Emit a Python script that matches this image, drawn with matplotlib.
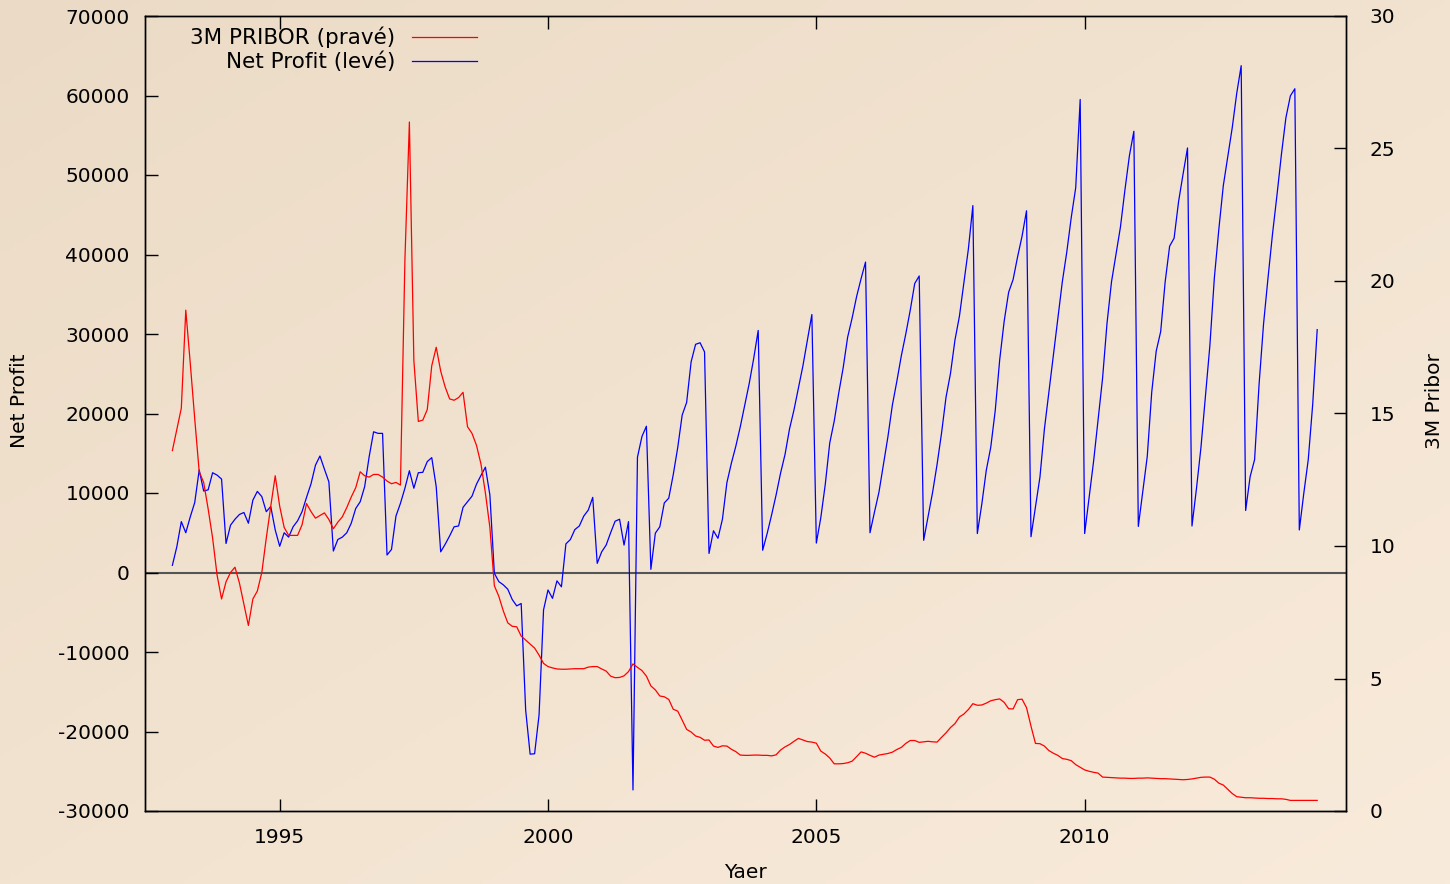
import matplotlib
matplotlib.use('Agg')
import matplotlib.pyplot as plt
from matplotlib.lines import Line2D
import numpy as np

# Monthly values, Jan 1993 .. May 2014 (one row per year)
start_year = 1993

net_profit = [
    900, 3250, 6400, 5000, 7000, 8800, 12900, 10250, 10400, 12550, 12250, 11750,
    3650, 5950, 6700, 7300, 7550, 6200, 9100, 10200, 9550, 7650, 8300, 5350,
    3300, 5000, 4450, 5750, 6500, 7650, 9450, 11150, 13500, 14650, 13000, 11400,
    2700, 4150, 4450, 5000, 6200, 8050, 8900, 10800, 14550, 17700, 17500, 17500,
    2200, 2900, 7100, 8700, 10600, 12800, 10600, 12550, 12600, 13950, 14450, 10800,
    2600, 3550, 4600, 5750, 5850, 8200, 8900, 9600, 11100, 12200, 13250, 9750,
    -100, -1150, -1550, -2100, -3400, -4200, -3900, -17300, -22850, -22800, -17900, -4700,
    -2200, -3250, -1050, -1800, 3600, 4150, 5400, 5850, 7100, 7850, 9450, 1150,
    2600, 3450, 5000, 6450, 6700, 3450, 6400, -27350, 14500, 17100, 18400, 400,
    4950, 5750, 8750, 9350, 12300, 15700, 19800, 21400, 26500, 28700, 28900, 27750,
    2400, 5250, 4300, 6700, 11300, 13750, 15900, 18350, 21050, 23800, 26950, 30450,
    2800, 4900, 7250, 9750, 12500, 14850, 18050, 20450, 23250, 26000, 29250, 32450,
    3700, 6900, 11100, 16300, 19050, 22550, 25750, 29600, 32000, 34700, 36950, 39050,
    5000, 7600, 10100, 13600, 17050, 21050, 24050, 27250, 30000, 33000, 36350, 37300,
    4050, 7100, 10100, 13600, 17550, 22050, 25050, 29250, 32250, 36450, 40700, 46150,
    4900, 8600, 12850, 15750, 20350, 26750, 31600, 35250, 36850, 39700, 42300, 45500,
    4500, 8250, 12000, 18050, 22700, 27300, 31900, 36550, 40300, 44650, 48400, 59500,
    4900, 9400, 14000, 19200, 24400, 31350, 36550, 40000, 43450, 48100, 52400, 55500,
    5800, 10250, 14600, 22700, 27850, 30300, 36550, 41050, 42050, 46650, 50100, 53400,
    5850, 10550, 15700, 22100, 28550, 37050, 43150, 48650, 52300, 55950, 60250, 63750,
    7800, 12050, 14200, 23650, 31250, 37050, 42550, 47450, 52600, 57200, 59950, 60850,
    5350, 9950, 14200, 21200, 30550,
]

pribor = [
    13.6, 14.4, 15.2, 18.9, 16.9, 14.8, 12.8, 12.4, 11.4, 10.3, 8.9, 8.0,
    8.65, 9.0, 9.2, 8.6, 7.8, 7.0, 8.0, 8.3, 9.0, 10.3, 11.5, 12.65,
    11.5, 10.7, 10.4, 10.4, 10.4, 10.8, 11.6, 11.3, 11.05, 11.15, 11.25, 11.0,
    10.65, 10.9, 11.1, 11.45, 11.85, 12.2, 12.8, 12.65, 12.6, 12.7, 12.7, 12.6,
    12.45, 12.35, 12.4, 12.3, 20.8, 26.0, 17.0, 14.7, 14.75, 15.15, 16.8, 17.5,
    16.6, 16.0, 15.55, 15.5, 15.6, 15.8, 14.5, 14.25, 13.8, 13.1, 12.0, 10.7,
    8.5, 8.1, 7.55, 7.1, 6.97, 6.95, 6.6, 6.45, 6.3, 6.15, 5.88, 5.57,
    5.45, 5.4, 5.36, 5.35, 5.35, 5.36, 5.37, 5.37, 5.37, 5.43, 5.45, 5.45,
    5.36, 5.28, 5.09, 5.03, 5.04, 5.1, 5.26, 5.55, 5.42, 5.3, 5.09, 4.72,
    4.57, 4.34, 4.31, 4.21, 3.84, 3.77, 3.43, 3.08, 2.98, 2.83, 2.78, 2.67,
    2.68, 2.45, 2.4, 2.46, 2.45, 2.33, 2.24, 2.11, 2.1, 2.1, 2.11, 2.11,
    2.1, 2.1, 2.08, 2.12, 2.3, 2.42, 2.51, 2.63, 2.74, 2.68, 2.62, 2.6,
    2.56, 2.26, 2.15, 2.0, 1.78, 1.78, 1.79, 1.82, 1.88, 2.05, 2.23, 2.18,
    2.1, 2.03, 2.11, 2.14, 2.17, 2.22, 2.32, 2.4, 2.55, 2.66, 2.66, 2.59,
    2.61, 2.63, 2.61, 2.6, 2.78, 2.95, 3.15, 3.3, 3.55, 3.66, 3.83, 4.05,
    3.99, 4.0, 4.07, 4.16, 4.2, 4.23, 4.1, 3.86, 3.85, 4.2, 4.22, 3.9,
    3.2, 2.55, 2.54, 2.45, 2.28, 2.18, 2.1, 1.98, 1.95, 1.9, 1.75, 1.65,
    1.55, 1.5, 1.46, 1.43, 1.28, 1.27, 1.26, 1.25, 1.24, 1.24, 1.23, 1.23,
    1.24, 1.24, 1.25, 1.24, 1.23, 1.22, 1.22, 1.21, 1.2, 1.19, 1.18, 1.19,
    1.21, 1.24, 1.27, 1.28, 1.28, 1.2, 1.05, 0.98, 0.82, 0.66, 0.54, 0.52,
    0.5, 0.5, 0.49, 0.48, 0.48, 0.47, 0.47, 0.46, 0.46, 0.44, 0.40, 0.40,
    0.40, 0.40, 0.40, 0.40, 0.40,
]

year_ticks = [1995, 2000, 2005, 2010]
profit_ticks = list(range(-30000, 70001, 10000))
pribor_ticks = list(range(0, 31, 5))

months = start_year + np.arange(len(net_profit)) / 12.0

plt.rcParams['axes.unicode_minus'] = False

W, H = 1450, 884
fig = plt.figure(figsize=(W / 100, H / 100), dpi=100)

# diagonal beige gradient background
bg = fig.add_axes([0, 0, 1, 1])
gx, gy = np.meshgrid(np.linspace(0, 1, 300), np.linspace(0, 1, 200))
g = (gx + gy) / 2
c0 = np.array([235, 219, 198]) / 255
c1 = np.array([249, 235, 219]) / 255
bg.imshow(c0 * (1 - g[..., None]) + c1 * g[..., None], extent=[0, 1, 0, 1], aspect='auto')
bg.axis('off')

ax = fig.add_axes([145 / W, 1 - 811 / H, (1346 - 145) / W, (811 - 16) / H])
ax.patch.set_visible(False)
ax2 = ax.twinx()

ax.axhline(0, color='#555555', lw=1.5, zorder=1)
ax2.plot(months, pribor, color='#ff0000', lw=0.9, label='3M PRIBOR (pravé)')
ax.plot(months, net_profit, color='#0000ff', lw=0.9, label='Net Profit (levé)', zorder=3)

ax.set_xlim(1992.49, 2014.87)
ax.set_ylim(-30000, 70000)
ax2.set_ylim(0, 30)
ax.set_xticks(year_ticks)
ax.set_yticks(profit_ticks)
ax2.set_yticks(pribor_ticks)

fs = 14.5
ax.tick_params(axis='x', direction='in', length=9, width=1, top=True, labelsize=fs, pad=12)
ax.tick_params(axis='y', direction='in', length=9, width=1, right=False, labelsize=fs, pad=11)
ax2.tick_params(axis='y', direction='in', length=9, width=1, labelsize=fs, pad=17)
for a in (ax, ax2):
    for s in a.spines.values():
        s.set_linewidth(1)
        s.set_color('black')

fig.text(20 / W, 1 - 401 / H, 'Net Profit', rotation=90, ha='center', va='center', fontsize=fs)
fig.text(1435 / W, 1 - 401 / H, '3M Pribor', rotation=90, ha='center', va='center', fontsize=fs)
fig.text(745 / W, 1 - 872 / H, 'Yaer', ha='center', va='center', fontsize=fs)

# gnuplot style key: text right aligned, sample line to the right
handles = [Line2D([], [], color='#ff0000', lw=0.9), Line2D([], [], color='#0000ff', lw=0.9)]
ax2.legend(handles, ['3M PRIBOR (pravé)', 'Net Profit (levé)'], loc='upper right',
           bbox_to_anchor=(477 / W, 1 - 27 / H), bbox_transform=fig.transFigure,
           frameon=False, markerfirst=False, fontsize=15.5, handlelength=3.0,
           handletextpad=0.8, labelspacing=0.15, borderaxespad=0, borderpad=0)

fig.savefig('out.png', dpi=100)
